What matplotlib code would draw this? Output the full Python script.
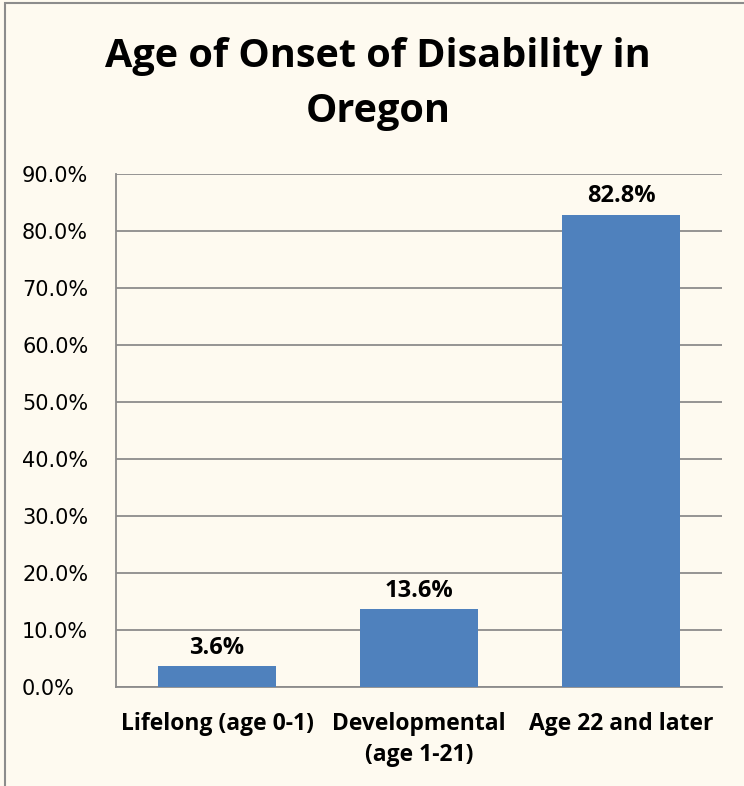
import matplotlib
matplotlib.use('Agg')
import matplotlib.pyplot as plt
from matplotlib.patches import Rectangle
from matplotlib.ticker import FuncFormatter

categories = ['Lifelong (age 0-1)', 'Developmental\n(age 1-21)', 'Age 22 and later']
values = [3.6, 13.6, 82.8]
yticks = [0, 10, 20, 30, 40, 50, 60, 70, 80, 90]

bg = '#fefaf0'
bar_color = '#4f81bd'
narrow = ['Liberation Sans Narrow', 'Open Sans', 'DejaVu Sans']

fig = plt.figure(figsize=(7.44, 7.86), dpi=100)
fig.patch.set_facecolor(bg)
# outer chart border (left/top visible, right/bottom cut off)
fig.patches.append(Rectangle((5 / 744, -0.1), 1.2, 1.1 - 3 / 786,
                             transform=fig.transFigure, fill=False,
                             edgecolor='#8c8c8c', linewidth=1.5))

ax = fig.add_axes([116 / 744, 1 - 687 / 786, (722 - 116) / 744, (687 - 174) / 786])
ax.set_facecolor(bg)

x = range(len(categories))
bars = ax.bar(x, values, width=0.58, color=bar_color, zorder=3)
for b, v in zip(bars, values):
    ax.text(b.get_x() + b.get_width() / 2, v + 1.2, f'{v:.1f}%', ha='center', va='bottom',
            fontsize=17, fontweight='bold', family=narrow)

ax.set_ylim(0, 90)
ax.set_xlim(-0.5, 2.5)
ax.set_yticks(yticks)
ax.yaxis.set_major_formatter(FuncFormatter(lambda v, p: f'{v:.1f}%'))
ax.grid(axis='y', color='#8c8c8c', linewidth=1.3, zorder=0)
ax.set_xticks(list(x))
ax.set_xticklabels(categories, fontsize=16.5, fontweight='bold', family=narrow, linespacing=1.4)
ax.tick_params(axis='y', length=0, labelsize=15)
ax.tick_params(axis='x', length=0, pad=18)
for s in ['top', 'right']:
    ax.spines[s].set_visible(False)
for s in ['left', 'bottom']:
    ax.spines[s].set_color('#8c8c8c')
    ax.spines[s].set_linewidth(1.3)
for lab in ax.get_yticklabels():
    lab.set_horizontalalignment('left')
ax.yaxis.set_tick_params(pad=94 * 0.72)

fig.text(378 / 744, 1 - 84 / 786, 'Age of Onset of Disability in\nOregon', ha='center', va='center',
         fontsize=28.5, fontweight='bold', family=narrow, linespacing=1.55)

fig.savefig('out.png', dpi=100, facecolor=bg)
